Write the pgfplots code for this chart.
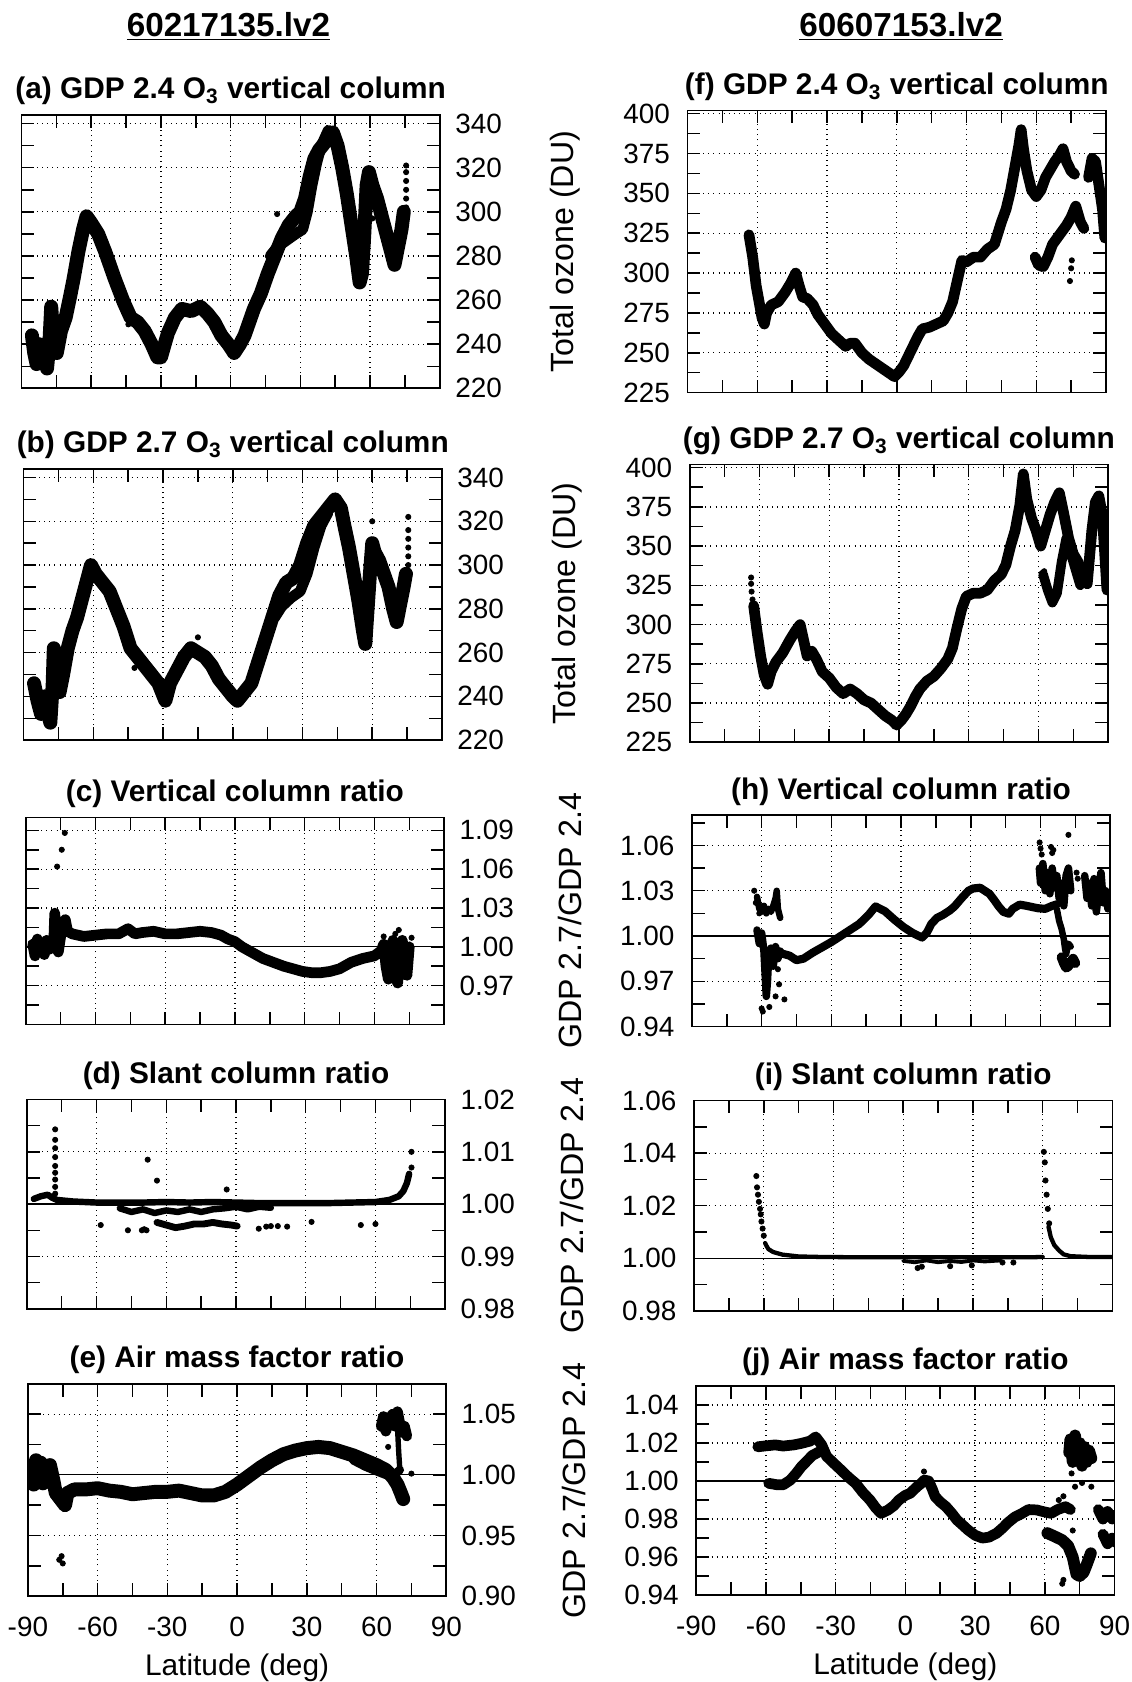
\documentclass[border=0pt]{standalone}
\usepackage{fontspec}
\setmainfont{Liberation Sans}
\usepackage{pgfplots}
\pgfplotsset{compat=1.18}
\pgfplotsset{
 base/.style={
  scale only axis, width=195pt, anchor=south west,
  xmin=-90, xmax=90,
  xtick={-90,-60,-30,0,30,60,90},
  minor xtick={-75,-45,-15,15,45,75},
  xticklabels={},
  tick align=inside, xtick pos=both, ytick pos=both,
  major tick length=6pt, minor tick length=6pt,
  tick style={black, line width=0.7pt},
  axis line style={black, line width=0.8pt},
  grid=major,
  major grid style={black, dotted, line width=0.6pt},
  tick label style={font=\fontsize{13}{15.5}\selectfont, inner sep=0pt},
  xlabel style={font=\fontsize{13.9}{16.5}\selectfont},
  ylabel style={font=\fontsize{15}{18}\selectfont},
  title style={at={(axis description cs:0.5,1)}, anchor=base, yshift=1.5pt, font=\bfseries\fontsize{13.9}{16.5}\selectfont},
 },
 leftcol/.style={yticklabel pos=right, yticklabel style={anchor=west, xshift=7pt}},
 rightcol/.style={yticklabel pos=left, yticklabel style={anchor=east, xshift=-8pt},
   ylabel style={at={(axis description cs:-0.292,0.5)}, anchor=center}},
 bottomrow/.style={xticklabels={-90,-60,-30,0,30,60,90}, xticklabel style={anchor=center, yshift=-14.5pt},
   xlabel={Latitude (deg)}, xlabel style={at={(axis description cs:0.5,0)}, anchor=center, yshift=-33.5pt}},
 band/.style={black, line width=#1, line join=round, line cap=round, mark=none},
 dots/.style={black, only marks, mark=*, mark size=1.2pt},
 zero/.style={black, line width=0.6pt, mark=none},
}
\begin{document}
\begin{tikzpicture}
\useasboundingbox (0,0) rectangle (527.5pt,-784pt);
\node[font=\bfseries\fontsize{15.5}{18}\selectfont] at (106.5pt,-12.5pt) {\underline{60217135.lv2}};
\node[font=\bfseries\fontsize{15.5}{18}\selectfont] at (420pt,-12.5pt) {\underline{60607153.lv2}};

% (a)
\begin{axis}[base, leftcol, at={(10pt,-181pt)}, height=127.5pt, ymin=220, ymax=344,
  ytick={220,240,...,340}, minor ytick={230,250,...,330}, yticklabels={220,240,260,280,300,320,340},
  title={(a) GDP 2.4 O\textsubscript{3} vertical column}]
\addplot[band=6.5pt] coordinates {(-85.5,244)(-84.5,236)(-83.5,231)(-82,240)(-80.5,235)(-79,229)(-78,240)(-77.2,257)(-76.3,244)(-74.8,236)(-73,246)(-71,252)(-69,262)(-67.5,270)(-65.5,282)(-63.5,292)(-62,298)(-60,295)(-57,290)(-54,282)(-50,270)(-46,259)(-43,252)(-40,250)(-37,246)(-34,240)(-31.5,234)(-30,234)(-27,245)(-24,252)(-21,256)(-17,255)(-13,257)(-10,254)(-7,250)(-4,244)(-1,240)(1.5,236)(4,240)(6,244)(8,250)(10,256)(13,263)(16,272)(19,280)(22,288)(25,294)(28,298)(30,300)(32,306)(34,316)(36,324)(38,328)(41,332)(44,336)(46,330)(48,320)(50,308)(52,294)(54,280)(55.5,268)(56.5,272)(57.5,290)(58.5,312)(59.5,318)(61,312)(63,306)(65,298)(67,290)(69,282)(70.5,276)(72,284)(73.5,292)(74.5,300)};
\addplot[band=5pt] coordinates {(17,280)(20,284)(24,287)(28,290)(31,292)(33,300)(35,312)(37,322)(39,330)(42,337)};
\addplot[dots] coordinates {(-44,249)(20,299)(64,306)(61,297)(75.5,302)(75.5,306)(75.5,310)(75.5,314)(75.5,318)(75.5,321)};
\end{axis}

% (b)
\begin{axis}[base, leftcol, at={(11pt,-345pt)}, height=126.5pt, ymin=220, ymax=344,
  ytick={220,240,...,340}, minor ytick={230,250,...,330}, yticklabels={220,240,260,280,300,320,340},
  title={(b) GDP 2.7 O\textsubscript{3} vertical column}]
\addplot[band=6.5pt] coordinates {(-85.5,246)(-84,238)(-82.5,232)(-81,240)(-79.5,232)(-78.5,228)(-77.5,245)(-77,262)(-76,248)(-74.5,242)(-73,250)(-71,262)(-69,270)(-67,276)(-65,284)(-63,292)(-61,300)(-59,296)(-56,292)(-53,288)(-50,280)(-47,272)(-44,262)(-41,258)(-38,254)(-35,250)(-32,246)(-29,238)(-27,246)(-24,252)(-21,258)(-18,262)(-15,260)(-12,258)(-9,254)(-6,248)(-3,244)(0,240)(2,238)(5,242)(8,246)(11,256)(14,266)(17,276)(20,286)(23,292)(26,294)(29,300)(32,310)(35,318)(38,322)(41,326)(44,330)(46.5,326)(48,318)(50,308)(52,296)(54,284)(56,270)(57,264)(58,280)(59,296)(60,310)(61,306)(63,302)(65,296)(67,290)(69,280)(70.5,274)(72,282)(73.5,290)(74.5,296)};
\addplot[band=5pt] coordinates {(18,276)(21,281)(25,285)(29,288)(32,296)(35,308)(38,318)(41,324)};
\addplot[dots] coordinates {(-42.3,253)(-15,267)(22.5,291)(60,320)(75.5,300)(75.5,304)(75.5,308)(75.5,312)(75.5,316)(75.5,322)};
\end{axis}

% (c)
\begin{axis}[base, leftcol, at={(12pt,-477.5pt)}, height=96.5pt, ymin=0.94, ymax=1.10,
  ytick={0.97,1.00,1.03,1.06,1.09}, minor ytick={0.955,0.985,1.015,1.045,1.075}, yticklabels={0.97,1.00,1.03,1.06,1.09},
  title={(c) Vertical column ratio}]
\addplot[zero] coordinates {(-90,1)(90,1)};
\addplot[band=5pt] coordinates {(-87,1.002)(-86,0.993)(-85,1.006)(-84,0.996)(-83,1.003)(-82,0.994)(-81,1.005)(-80,0.998)(-79,1.004)(-78,1.000)(-77.5,1.026)(-77,1.002)(-76,0.996)(-75,1.008)(-74,1.018)(-73,1.021)(-72,1.012)(-70,1.010)(-65,1.008)(-60,1.009)(-55,1.010)(-50,1.010)(-46,1.014)(-43,1.010)(-40,1.011)(-35,1.012)(-30,1.010)(-25,1.010)(-20,1.011)(-15,1.012)(-10,1.011)(-6,1.009)(-3,1.006)(0,1.004)(3,1.000)(6,0.997)(9,0.994)(12,0.991)(15,0.989)(18,0.987)(21,0.985)(25,0.983)(29,0.981)(33,0.980)(37,0.980)(41,0.981)(45,0.983)(50,0.988)(55,0.991)(60,0.993)(63,0.997)(64,1.002)(65,0.985)(66,0.975)(67,0.990)(68,1.005)(69,0.980)(70,0.972)(71,0.995)(72,1.005)(73,0.985)(74,0.978)(75,1.000)};
\addplot[dots] coordinates {(-76.5,1.062)(-74.5,1.075)(-73.2,1.088)(64,1.008)(69,1.010)(70.5,1.013)(76,1.007)};
\end{axis}

% (d)
\begin{axis}[base, leftcol, at={(12.5pt,-610pt)}, height=97.5pt, ymin=0.98, ymax=1.02,
  ytick={0.98,0.99,1.00,1.01,1.02}, minor ytick={0.985,0.995,1.005,1.015}, yticklabels={0.98,0.99,1.00,1.01,1.02},
  title={(d) Slant column ratio}]
\addplot[zero] coordinates {(-90,1)(90,1)};
\addplot[band=3pt] coordinates {(-87,1.0010)(-84,1.0015)(-81,1.0018)(-79,1.0012)(-77,1.0008)(-70,1.0005)(-60,1.0003)(-50,1.0003)(-40,1.0003)(-30,1.0004)(-20,1.0003)(-10,1.0004)(0,1.0003)(10,1.0002)(20,1.0002)(30,1.0002)(40,1.0002)(50,1.0003)(60,1.0004)(66,1.0008)(70,1.0015)(72,1.0025)(73.5,1.0040)(74.5,1.0058)};
\addplot[band=3pt] coordinates {(-50,0.9992)(-45,0.9985)(-40,0.9990)(-35,0.9983)(-30,0.9988)(-25,0.9985)(-20,0.9990)(-15,0.9985)(-10,0.9990)(-5,0.9992)(0,0.9995)(5,0.9990)(10,0.9995)(15,0.9993)};
\addplot[band=3.2pt] coordinates {(-34,0.9965)(-30,0.9960)(-26,0.9955)(-22,0.9958)(-18,0.9962)(-14,0.9962)(-10,0.9965)(-6,0.9962)(-2,0.9960)(0.5,0.9958)};
\addplot[dots] coordinates {(-77.8,1.0143)(-77.8,1.0123)(-77.8,1.0107)(-77.8,1.0090)(-77.8,1.0073)(-77.8,1.0060)(-77.8,1.0047)(-77.8,1.0033)(-77.8,1.0020)(75.5,1.0070)(75.5,1.0100)(-58.2,0.9960)(-46.5,0.9950)(-40.5,0.9950)(-39.5,0.9952)(-38.5,0.9950)(-38,1.0085)(-34,1.0045)(-4,1.0028)(9.8,0.9953)(13,0.9957)(15,0.9958)(18,0.9958)(22,0.9957)(32.5,0.9966)(53.7,0.9960)(60,0.9962)};
\end{axis}

% (e)
\begin{axis}[base, leftcol, bottomrow, at={(13pt,-744pt)}, height=99pt, ymin=0.90, ymax=1.075,
  ytick={0.90,0.95,1.00,1.05}, minor ytick={0.925,0.975,1.025}, yticklabels={0.90,0.95,1.00,1.05},
  title={(e) Air mass factor ratio}]
\addplot[zero] coordinates {(-90,1)(90,1)};
\addplot[band=6.5pt] coordinates {(-88.5,1.005)(-87.5,0.992)(-86.5,1.012)(-85.5,0.998)(-84.5,1.010)(-83.5,0.993)(-82.5,1.006)(-81.5,0.998)(-80.5,1.008)(-79,0.995)(-78,0.985)(-76,0.980)(-74,0.975)(-73,0.985)(-70,0.988)(-65,0.988)(-60,0.989)(-55,0.987)(-50,0.986)(-45,0.984)(-40,0.985)(-35,0.986)(-30,0.986)(-25,0.987)(-20,0.985)(-15,0.983)(-10,0.983)(-5,0.986)(0,0.992)(5,0.999)(10,1.006)(15,1.012)(20,1.017)(25,1.020)(30,1.022)(35,1.023)(40,1.022)(45,1.019)(50,1.016)(55,1.012)(60,1.008)(64,1.004)(67,0.998)(69,0.992)(70.5,0.985)(71.5,0.980)};
\addplot[band=4pt] coordinates {(50,1.012)(55,1.007)(60,1.003)(64,1.000)(67,0.999)(70,1.004)};
\addplot[band=5pt] coordinates {(62,1.040)(63,1.048)(64,1.036)(65,1.045)(67,1.050)(68,1.040)(69,1.052)(70,1.042)(71,1.035)(72,1.040)(73,1.032)};
\addplot[band=2.5pt] coordinates {(69,1.040)(69.5,1.020)(70,1.005)};
\addplot[dots] coordinates {(65,1.023)(75,1.001)(-76.5,0.930)(-75,0.927)(-75.5,0.933)};
\end{axis}

% (f)
\begin{axis}[base, rightcol, at={(320.5pt,-183pt)}, height=131.5pt, ymin=225, ymax=402,
  ytick={225,250,...,400}, minor ytick={237.5,262.5,...,387.5}, yticklabels={225,250,275,300,325,350,375,400},
  ylabel={Total ozone (DU)},
  title={(f) GDP 2.4 O\textsubscript{3} vertical column}]
\addplot[band=5pt] coordinates {(-63.6,324)(-62,310)(-60.5,292)(-59,280)(-58,272)(-57,268)(-56,275)(-54,280)(-51,282)(-48,288)(-45.5,294)(-43.5,300)(-42,292)(-40.5,285)(-38.5,284)(-36,280)(-34,274)(-32,270)(-30,266)(-28,262)(-25,258)(-22,254)(-20,256)(-18,256)(-15,250)(-12,246)(-9,243)(-6,240)(-3,237)(-1,235)(1,238)(3,242)(5,248)(7,254)(9,260)(11,265)(14,266)(17,268)(20,270)(22,275)(24,282)(26,295)(28,308)(30,307)(33,310)(36,310)(39,315)(42,318)(45,332)(47,340)(49,352)(51,368)(52.5,380)(53.5,390)(54.5,378)(56,364)(58,352)(60,348)(62,352)(64,360)(66,365)(68,370)(70,374)(71.5,378)(73,370)(75,364)(76.5,362)};
\addplot[band=5pt] coordinates {(59.5,310)(61,305)(63,304)(65,310)(67,318)(69,322)(71,326)(73,330)(75,335)(77,342)(79,332)(80.5,328)};
\addplot[band=5pt] coordinates {(82.5,360)(84,372)(85.5,370)(87,355)(88.5,340)(89.5,322)};
\addplot[dots] coordinates {(74.5,295)(75,303)(75.3,308)};
\end{axis}

% (g)
\begin{axis}[base, rightcol, at={(321.5pt,-346pt)}, height=129.5pt, ymin=225, ymax=402,
  ytick={225,250,...,400}, minor ytick={237.5,262.5,...,387.5}, yticklabels={225,250,275,300,325,350,375,400},
  ylabel={Total ozone (DU)},
  title={(g) GDP 2.7 O\textsubscript{3} vertical column}]
\addplot[band=5pt] coordinates {(-62.5,312)(-61,295)(-59.5,280)(-58,268)(-56.5,262)(-55,270)(-53,276)(-50,282)(-47,290)(-44.5,296)(-42.5,300)(-41,290)(-39.5,280)(-37.5,283)(-35.5,278)(-33,270)(-30,266)(-27,260)(-24,256)(-21,259)(-18,256)(-15,252)(-12,250)(-9,246)(-6,242)(-3,239)(-1,236)(1,239)(3,243)(5,248)(7,254)(9,259)(12,264)(15,267)(18,272)(21,278)(23,285)(25,298)(27,310)(29,318)(32,320)(35,320)(38,322)(41,328)(44,332)(46,338)(48,350)(50,360)(52,376)(53.5,396)(55,380)(57,368)(59,360)(61,350)(63,360)(65,370)(67,378)(69,384)(71,370)(73,355)(75,345)(77,340)(79,330)(81,326)(83,360)(84.5,378)(86,382)(87.5,370)(89.5,322)};
\addplot[band=4.5pt] coordinates {(62,332)(64,322)(66,314)(68,320)(70,340)(72,355)(74,345)(76,335)(78,325)};
\addplot[dots] coordinates {(62.5,334)(-63.6,330)(-63.6,326)(-63.4,321)(-63,316)};
\end{axis}

% (h)
\begin{axis}[base, rightcol, at={(322.5pt,-478.5pt)}, height=98.5pt, ymin=0.94, ymax=1.08,
  ytick={0.94,0.97,1.00,1.03,1.06}, minor ytick={0.955,0.985,1.015,1.045,1.075}, yticklabels={0.94,0.97,1.00,1.03,1.06},
  ylabel={GDP 2.7/GDP 2.4},
  title={(h) Vertical column ratio}]
\addplot[zero] coordinates {(-90,1)(90,1)};
\addplot[band=3.8pt] coordinates {(-51.5,0.9885)(-48,0.987)(-45,0.984)(-42,0.985)(-38,0.989)(-34,0.9925)(-30,0.996)(-26,1.000)(-22,1.004)(-18,1.008)(-14,1.014)(-11,1.0196)(-7,1.0165)(-3,1.011)(1,1.006)(5,1.002)(9,0.999)(11,1.002)(13,1.008)(15.4,1.012)(18,1.014)(21,1.017)(23,1.0196)(26,1.025)(29,1.030)(31,1.0315)(34,1.032)(36,1.030)(38,1.028)(40,1.024)(42,1.0196)(44,1.016)(46.4,1.0148)(48,1.018)(51,1.0208)(54,1.020)(57,1.019)(59,1.0184)(62,1.018)(65,1.020)(67,1.021)};
\addplot[band=3.5pt] coordinates {(-62,1.004)(-61,0.995)(-60,1.002)(-59,0.990)(-58.5,0.975)(-58,0.960)(-57.5,0.970)(-57,0.985)(-56,0.992)(-55,0.980)(-54,0.993)(-53,0.985)(-52,0.990)(-51.5,0.988)};
\addplot[band=3pt] coordinates {(-62,1.026)(-61,1.018)(-60,1.016)(-59,1.020)(-58,1.015)(-57,1.018)(-56,1.016)(-55,1.020)(-54,1.025)(-53.5,1.030)(-53,1.018)(-52,1.012)};
\addplot[band=3.5pt] coordinates {(59.5,1.045)(60,1.035)(61,1.048)(62,1.030)(63,1.042)(64,1.028)(65,1.045)(66,1.032)(67,1.040)(68,1.025)(69,1.035)(70,1.020)(71,1.040)(72,1.045)(73,1.030)};
\addplot[band=3pt] coordinates {(67,1.018)(68,1.010)(69,1.005)(70,0.998)(70.5,0.992)(71,0.988)(72,0.995)(73,0.993)};
\addplot[band=4.5pt] coordinates {(69,0.986)(70,0.982)(71,0.979)(72,0.980)(73,0.983)(74,0.985)(75,0.982)};
\addplot[band=3.5pt] coordinates {(79,1.040)(80,1.025)(81,1.035)(82,1.020)(83,1.038)(84,1.016)(85,1.030)(86,1.042)(87,1.022)(88,1.030)(89,1.018)(90,1.025)};
\addplot[dots] coordinates {(-63.2,1.030)(-62.5,1.022)(-61,1.015)(-60,0.952)(-59.5,0.950)(-56.7,0.953)(-54,0.960)(-53,0.978)(-52.5,0.968)(-50.2,0.958)(59.6,1.062)(60,1.058)(60.5,1.054)(64.5,1.059)(65,1.055)(65.5,1.057)(72,1.067)(75.5,1.042)(76,1.038)};
\end{axis}

% (i)
\begin{axis}[base, rightcol, at={(323.5pt,-611pt)}, height=98pt, ymin=0.98, ymax=1.06,
  ytick={0.98,1.00,1.02,1.04,1.06}, minor ytick={0.99,1.01,1.03,1.05}, yticklabels={0.98,1.00,1.02,1.04,1.06},
  ylabel={GDP 2.7/GDP 2.4},
  title={(i) Slant column ratio}]
\addplot[zero] coordinates {(-90,1)(90,1)};
\addplot[band=2pt] coordinates {(-59.4,1.0058)(-59,1.0050)(-58,1.0035)(-56,1.0024)(-52,1.0014)(-45,1.0007)(-35,1.0005)(-20,1.0004)(0,1.0004)(20,1.0004)(40,1.0004)(55,1.0004)(60,1.0005)};
\addplot[band=2pt] coordinates {(62.5,1.012)(63.5,1.008)(65,1.005)(67,1.003)(69,1.0015)(72,1.0008)(80,1.0005)(90,1.0005)};
\addplot[band=1.8pt] coordinates {(0,0.9990)(5,0.9985)(10,0.9992)(15,0.9985)(20,0.9990)(25,0.9986)(30,0.9992)(35,0.9988)(42,0.9992)};
\addplot[dots] coordinates {(-63.2,1.0313)(-62.9,1.027)(-62.5,1.0242)(-62.1,1.0215)(-61.6,1.0188)(-61.3,1.0167)(-61.0,1.014)(-60.5,1.0113)(-60.0,1.0086)(60.5,1.0405)(60.9,1.0365)(61.2,1.0296)(61.7,1.0242)(62.2,1.0188)(62.8,1.0133)(6.2,0.9963)(8,0.9968)(20.2,0.9970)(29.5,0.9973)(42.7,0.9984)(47.4,0.9984)};
\end{axis}

% (j)
\begin{axis}[base, rightcol, bottomrow, at={(324.5pt,-743.5pt)}, height=97.5pt, ymin=0.94, ymax=1.05,
  ytick={0.94,0.96,0.98,1.00,1.02,1.04}, minor ytick={0.95,0.97,0.99,1.01,1.03}, yticklabels={0.94,0.96,0.98,1.00,1.02,1.04},
  ylabel={GDP 2.7/GDP 2.4},
  title={(j) Air mass factor ratio}]
\addplot[zero] coordinates {(-90,1)(90,1)};
\addplot[band=5pt] coordinates {(-63.5,1.018)(-60,1.0185)(-56,1.019)(-52.6,1.0184)(-48,1.019)(-44.8,1.0198)(-41,1.021)(-38.6,1.0232)(-36,1.019)(-33.9,1.013)(-30.5,1.009)(-27.7,1.0058)(-24.5,1.002)(-21.4,0.9988)(-18.3,0.994)(-15.2,0.990)(-12.8,0.986)(-10.5,0.983)(-7.4,0.9848)(-5,0.987)(-2.8,0.990)(0,0.9925)(2,0.9935)(5,0.997)(7,0.999)(8.2,1.0005)(10,1.000)(11.5,0.996)(12.8,0.9918)(15,0.989)(17.5,0.9865)(20,0.983)(22.2,0.9795)(24.5,0.977)(26.9,0.9743)(30,0.9715)(33.1,0.970)(36,0.9705)(39.3,0.9726)(42,0.9755)(44,0.978)(47,0.981)(50.2,0.983)(53,0.985)(56.5,0.9848)(59,0.984)(62.7,0.983)(65.5,0.985)(68.9,0.9865)(71,0.985)};
\addplot[band=5pt] coordinates {(-58.8,0.9988)(-55,0.998)(-52.6,0.998)(-49.5,1.0005)(-47,1.004)(-44.8,1.0075)(-42,1.011)(-40,1.0135)(-37,1.0154)(-35,1.016)};
\addplot[band=5.5pt] coordinates {(70.5,1.015)(71,1.022)(72,1.010)(73,1.024)(74,1.012)(75,1.020)(76,1.008)(77,1.018)(78,1.010)(79,1.016)(80,1.012)};
\addplot[band=5.5pt] coordinates {(61.1,0.9726)(64,0.971)(67.4,0.969)(70,0.966)(72,0.960)(73.6,0.951)(75,0.950)(76.7,0.952)(78,0.956)(79.8,0.962)};
\addplot[band=5pt] coordinates {(83,0.985)(85,0.980)(87,0.984)(89,0.980)(90,0.982)};
\addplot[band=5pt] coordinates {(85,0.972)(87,0.967)(89,0.970)(90,0.968)};
\addplot[dots] coordinates {(8,1.005)(71.5,1.004)(73,0.997)(76,0.999)(80,0.997)(72,0.974)(67.5,0.946)(68,0.948)(66,0.990)(68,0.992)};
\end{axis}
\end{tikzpicture}
\end{document}
